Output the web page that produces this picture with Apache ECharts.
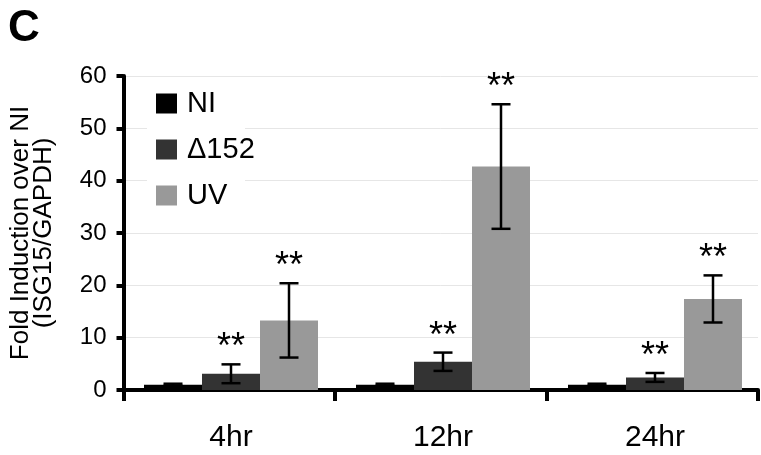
<!DOCTYPE html>
<html>
<head>
<meta charset="utf-8">
<script src="https://cdn.jsdelivr.net/npm/echarts@6/dist/echarts.min.js"></script>
<style>
html,body{margin:0;padding:0;background:#fff;}
#chart{width:761px;height:455px;}
</style>
</head>
<body>
<div id="chart"></div>
<script>
// ---- data ----
var categories = ['4hr', '12hr', '24hr'];
var seriesNames = ['NI', '\u0394152', 'UV'];
var niMean = [1, 1, 1];
var niErr = [0.2, 0.2, 0.2];
var d152Mean = [3.1, 5.4, 2.4];
var d152Err = [1.8, 1.75, 0.85];
var uvMean = [13.3, 42.7, 17.4];
var uvErr = [7.1, 11.9, 4.5];
var niStars = ['', '', ''];
var d152Stars = ['**', '**', '**'];
var uvStars = ['**', '**', '**'];
var yTicks = [0, 10, 20, 30, 40, 50, 60];

// ---- style ----
var FONT = "'Liberation Sans', Arial, Helvetica, sans-serif";
var COLORS = ['#000000', '#333333', '#999999'];
var BAR_W = 58;

var means = [niMean, d152Mean, uvMean];
var errs = [niErr, d152Err, uvErr];
var stars = [niStars, d152Stars, uvStars];

var errData = [];
for (var s = 0; s < 3; s++) {
  for (var c = 0; c < categories.length; c++) {
    errData.push([c, s, means[s][c] - errs[s][c], means[s][c] + errs[s][c], stars[s][c]]);
  }
}

function renderErr(params, api) {
  var c = api.value(0), s = api.value(1);
  var lo = api.value(2), hi = api.value(3);
  var star = errData[params.dataIndex][4];
  var cx = api.coord([c, 0])[0] + (s - 1) * BAR_W;
  var yHi = api.coord([c, hi])[1];
  var yLo = api.coord([c, lo])[1];
  var half = 9.5;
  var ls = {stroke: '#000', lineWidth: 2.5};
  var children = [
    {type: 'line', shape: {x1: cx, y1: yHi, x2: cx, y2: yLo}, style: ls},
    {type: 'line', shape: {x1: cx - half, y1: yHi, x2: cx + half, y2: yHi}, style: ls},
    {type: 'line', shape: {x1: cx - half, y1: yLo, x2: cx + half, y2: yLo}, style: ls}
  ];
  if (star) {
    children.push({type: 'text', style: {text: star, x: cx, y: yHi - 16, textAlign: 'center', textVerticalAlign: 'middle', fill: '#000', font: '36px ' + FONT}});
  }
  return {type: 'group', children: children};
}

var chart = echarts.init(document.getElementById('chart'));
var option = {
  animation: false,
  backgroundColor: '#fff',
  textStyle: {fontFamily: FONT},
  grid: [
    {left: 121, right: 3, top: 76, bottom: 65},
    {left: 125, right: -4, top: 76, bottom: 65}
  ],
  legend: {
    data: seriesNames,
    orient: 'vertical',
    left: 156, top: 89,
    padding: 0,
    itemWidth: 21, itemHeight: 20, itemGap: 17,
    icon: 'rect',
    textStyle: {fontSize: 29, color: '#000', fontFamily: FONT, padding: [0, 0, 0, 5]}
  },
  graphic: [
    {type: 'rect', left: 147, top: 85, shape: {width: 98, height: 125}, style: {fill: '#fff'}, z: 1, silent: true},
    {type: 'text', left: 8, top: 7, style: {text: 'C', font: 'bold 44px ' + FONT, fill: '#000'}, z: 10}
  ],
  xAxis: [
    {type: 'category', gridIndex: 0, data: categories,
     axisLine: {lineStyle: {color: '#000', width: 4}},
     axisTick: {show: true, length: 11, lineStyle: {color: '#000', width: 4}},
     axisLabel: {show: false}, splitLine: {show: false}},
    {type: 'category', gridIndex: 1, data: categories,
     axisLine: {show: false}, axisTick: {show: false},
     axisLabel: {show: true, fontSize: 30, color: '#000', margin: 33, fontFamily: FONT}}
  ],
  yAxis: [
    {type: 'value', gridIndex: 0, min: yTicks[0], max: yTicks[yTicks.length - 1], interval: 10,
     name: 'Fold Induction over NI\n(ISG15/GAPDH)',
     nameLocation: 'middle', nameGap: 68,
     nameTextStyle: {fontSize: 26, color: '#000', lineHeight: 23, fontFamily: FONT},
     axisLine: {show: true, lineStyle: {color: '#000', width: 4}},
     axisTick: {show: true, length: 7, lineStyle: {color: '#000', width: 4}},
     axisLabel: {fontSize: 24, color: '#000', margin: 17, fontFamily: FONT},
     splitLine: {show: true, lineStyle: {color: '#e6e6e6', width: 1}}},
    {type: 'value', gridIndex: 1, min: yTicks[0], max: yTicks[yTicks.length - 1], interval: 10,
     show: false, splitLine: {show: false}}
  ],
  series: [
    {name: seriesNames[0], type: 'bar', xAxisIndex: 1, yAxisIndex: 1, data: niMean, barWidth: BAR_W, barGap: '0%', itemStyle: {color: COLORS[0]}},
    {name: seriesNames[1], type: 'bar', xAxisIndex: 1, yAxisIndex: 1, data: d152Mean, barWidth: BAR_W, barGap: '0%', itemStyle: {color: COLORS[1]}},
    {name: seriesNames[2], type: 'bar', xAxisIndex: 1, yAxisIndex: 1, data: uvMean, barWidth: BAR_W, barGap: '0%', itemStyle: {color: COLORS[2]}},
    {name: 'err', type: 'custom', xAxisIndex: 1, yAxisIndex: 1, data: errData, renderItem: renderErr, z: 5, silent: true}
  ]
};
chart.setOption(option);
</script>
</body>
</html>
